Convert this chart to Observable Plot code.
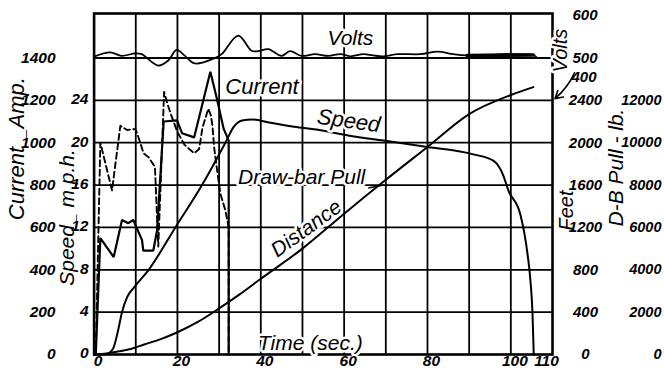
<!DOCTYPE html>
<html><head><meta charset="utf-8">
<script src="https://cdn.jsdelivr.net/npm/d3@7"></script>
<script src="https://cdn.jsdelivr.net/npm/@observablehq/plot@0.6"></script>
<style>html,body{margin:0;padding:0;background:#fff} svg{display:block}</style>
</head><body><div id="chart"></div>
<script>
// ---- tick labels ----
const timeTicks = [0, 20, 40, 60, 80, 100, 110];
const currentTicks = [0, 200, 400, 600, 800, 1000, 1200, 1400];
const speedTicks = [0, 4, 8, 12, 16, 20, 24];
const feetTicks = [0, 400, 800, 1200, 1600, 2000, 2400];
const pullTicks = [0, 2000, 4000, 6000, 8000, 10000, 12000];
const voltTicks = [400, 500, 600];

// ---- series ----
const voltsTime = [0, 3.9, 6.6, 9.9, 11.4, 15.4, 17.8, 19.8, 21.8, 24.2, 29.0, 30.6, 34.6, 37.8, 39.4, 41.8, 45.0, 47.0, 49.8, 53.0, 56.2, 59.1, 61.5, 64.6, 67.0, 69.4, 72.8, 78.3, 82.4, 86.2, 89.5, 105.4, 106.3];
const voltsValue = [503, 513, 505, 511, 509, 482, 494, 519, 505, 487, 500, 509, 553, 517, 516, 521, 505, 516, 505, 509, 505, 509, 504, 509, 506, 504, 509, 509, 515, 509, 506, 507, 500];

const currentTime = [0, 0.4, 1.5, 4.7, 6.7, 8.2, 9.4, 11.5, 11.8, 14.2, 15.1, 16.7, 19.9, 21.1, 24.0, 27.9, 29.5, 31.1, 32.3, 32.3];
const currentAmp = [0, 0, 550, 460, 635, 620, 635, 540, 490, 490, 585, 1100, 1105, 1045, 1025, 1335, 1205, 1065, 1010, 0];

const pullTime = [0, 0.4, 1.5, 4.3, 6.3, 7.9, 9.9, 10.6, 11.9, 13.0, 14.6, 15.4, 16.8, 17.5, 18.5, 20.0, 21.7, 24.0, 25.2, 26.0, 27.4, 28.0, 28.4, 28.8, 29.3, 30.3, 31.5, 32.3, 32.3];
const pullLb = [0, 0, 10000, 7750, 10800, 10600, 10650, 10280, 9490, 9330, 8860, 5100, 12400, 11900, 11300, 10500, 9900, 9500, 9700, 10700, 11600, 11300, 10800, 9800, 9000, 7600, 6800, 6000, 0];

const speedTime = [0, 3, 4.6, 5.6, 6.7, 7.9, 9.5, 13.1, 19.5, 25.9, 31.5, 33.5, 35.5, 38, 42, 48, 54, 62, 69.5, 80, 91, 95.8, 98.2, 99.4, 102.3, 104.0, 104.7, 105.2, 105.5];
const speedMph = [0, 0.05, 0.6, 2.0, 4.0, 5.4, 6.3, 8, 12, 16, 20, 21.5, 22.1, 22.2, 21.9, 21.5, 21.2, 20.6, 20.2, 19.6, 18.9, 18.3, 16.9, 15.5, 13.2, 9.5, 7.0, 3.9, 0];

const distTime = [0, 3, 6, 9, 12, 16, 20, 25, 30, 35, 40, 50, 60, 70, 80, 90, 100, 105.4];
const distFeet = [0, 10, 30, 55, 95, 145, 210, 310, 435, 570, 715, 1000, 1330, 1650, 1960, 2270, 2450, 2525];

// ---- conversion of every unit onto the common (ampere) vertical scale ----
const fromAmp = a => a;
const fromSpeed = s => s * 50;      // 24 mph  <-> 1200 A
const fromFeet = f => f / 2;        // 2400 ft <-> 1200 A
const fromPull = p => p / 10;       // 12000 lb <-> 1200 A
const fromVolts = v => 1400 + (v - 500) * 2; // 500 V <-> 1400 A, 100 V = 200 A

const zip = (ts, vs, f) => ts.map((t, i) => ({t, y: f(vs[i])}));
const volts = zip(voltsTime, voltsValue, fromVolts);
const current = zip(currentTime, currentAmp, fromAmp);
const pull = zip(pullTime, pullLb, fromPull);
const speed = zip(speedTime, speedMph, fromSpeed);
const dist = zip(distTime, distFeet, fromFeet);

// ---- text annotations (time, ampere-scale position) ----
const labels = [
  {text: "Current _Amp.", t: -18.4, a: 972, rotate: -90, size: 22, len: 168},
  {text: "Speed_ m.p.h.", t: -6.4, a: 647, rotate: -90, size: 21, len: 120},
  {text: "Volts", t: 111.9, a: 1435, rotate: -90, size: 20, len: 44},
  {text: "Feet", t: 113.5, a: 680, rotate: -90, size: 20, len: 46},
  {text: "D-B Pull - lb.", t: 125.2, a: 883, rotate: -90, size: 21, len: 176},
  {text: "Volts", t: 61.5, a: 1494, rotate: 0, size: 21, len: 45},
  {text: "Current", t: 40.3, a: 1261, rotate: 0, size: 22, len: 78},
  {text: "Speed", t: 61.1, a: 1103, rotate: 8, size: 22, len: 63},
  {text: "Draw-bar Pull", t: 49.8, a: 836, rotate: 0, size: 21, len: 132},
  {text: "Distance", t: 50.9, a: 595, rotate: -36, size: 21, len: 90},
  {text: "Time (sec.)", t: 51.9, a: 52, rotate: 0, size: 21, len: 114}
];

const num = {fontFamily: "Liberation Sans", fontWeight: "bold", fontStyle: "italic", fill: "#000"};

const chart = Plot.plot({
  width: 664, height: 373,
  marginLeft: 93.6, marginRight: 112, marginTop: 13, marginBottom: 19,
  x: {domain: [0, 110], axis: null},
  y: {domain: [0, 1610], axis: null},
  style: {background: "#fff", fontFamily: "Liberation Sans", overflow: "visible"},
  marks: [
    Plot.ruleX(d3.range(10, 110, 10), {stroke: "#000", strokeWidth: 1.8}),
    Plot.ruleY(currentTicks.slice(1), {stroke: "#000", strokeWidth: 1.8}),
    Plot.frame({stroke: "#000", strokeWidth: 2.6}),
    Plot.line(volts, {x: "t", y: "y", curve: "catmull-rom", stroke: "#000", strokeWidth: 1.8}),
    Plot.line(volts, {filter: d => d.t >= 89.5 && d.t <= 105.4, x: "t", y: "y", stroke: "#000", strokeWidth: 3.6}),
    Plot.line(dist, {x: "t", y: "y", curve: "monotone-x", stroke: "#000", strokeWidth: 2}),
    Plot.line(speed, {x: "t", y: "y", curve: "monotone-x", stroke: "#000", strokeWidth: 2}),
    Plot.line(pull, {x: "t", y: "y", stroke: "#000", strokeWidth: 1.9, strokeDasharray: "6,3.5"}),
    Plot.line(current, {x: "t", y: "y", stroke: "#000", strokeWidth: 2.2, strokeLinejoin: "miter"}),
    // arrow from the "400" volts label to its line
    Plot.arrow([{x1: 115.3, y1: 1330, x2: 110.6, y2: 1208}], {x1: "x1", y1: "y1", x2: "x2", y2: "y2", bend: 12, stroke: "#000", strokeWidth: 1.6, headLength: 8}),
    // leader from the Draw-bar Pull label
    Plot.link([{x1: 65.8, y1: 786, x2: 69.5, y2: 800}], {x1: "x1", y1: "y1", x2: "x2", y2: "y2", stroke: "#000", strokeWidth: 1.6}),
    // titles and in-plot labels (white halo breaks the rules beneath them)
    Plot.text(labels, {x: "t", y: "a", text: "text", rotate: "rotate", fontSize: "size", fontStyle: "italic",
      fill: "#000", stroke: "#fff", strokeWidth: 5, ariaLabel: "labels"}),
    // tick labels
    Plot.text(currentTicks, {y: fromAmp, text: d => `${d}`, frameAnchor: "left", textAnchor: "end", dx: -38.6, fontSize: 15.5, ...num}),
    Plot.text(speedTicks, {y: fromSpeed, text: d => `${d}`, frameAnchor: "left", textAnchor: "end", dx: -5.6, dy: -1, fontSize: 15.5, ...num}),
    Plot.text(feetTicks, {y: fromFeet, text: d => `${d}`, frameAnchor: "right", textAnchor: "middle", dx: 33, fontSize: 15, ...num}),
    Plot.text(pullTicks, {y: fromPull, text: d => `${d}`, frameAnchor: "right", textAnchor: "end", dx: 109, fontSize: 14.5, ...num}),
    Plot.text(voltTicks.filter(v => v >= 500), {y: fromVolts, text: d => `${d}`, frameAnchor: "right", textAnchor: "start", dx: 20, fontSize: 15, ...num}),
    Plot.text(voltTicks.filter(v => v < 500), {y: fromVolts, text: d => `${d}`, frameAnchor: "right", textAnchor: "start", dx: 19, dy: -23, fontSize: 15, ...num}),
    Plot.text(timeTicks.filter(d => d < 110), {x: d => d, text: d => `${d}`, frameAnchor: "bottom", dy: 11, dx: 4, fontSize: 15.5, ...num}),
    Plot.text(timeTicks.filter(d => d >= 110), {x: d => d, text: d => `${d}`, frameAnchor: "bottom", dy: 11, dx: -6, fontSize: 15.5, ...num})
  ]
});
document.getElementById("chart").appendChild(chart);

d3.select(chart).selectAll("g[aria-label=labels] text")
  .attr("paint-order", "stroke")
  .attr("stroke-linejoin", "round")
  .each(function(_, i) {
    d3.select(this).attr("textLength", labels[i].len).attr("lengthAdjust", "spacingAndGlyphs");
  });
</script>
</body></html>
